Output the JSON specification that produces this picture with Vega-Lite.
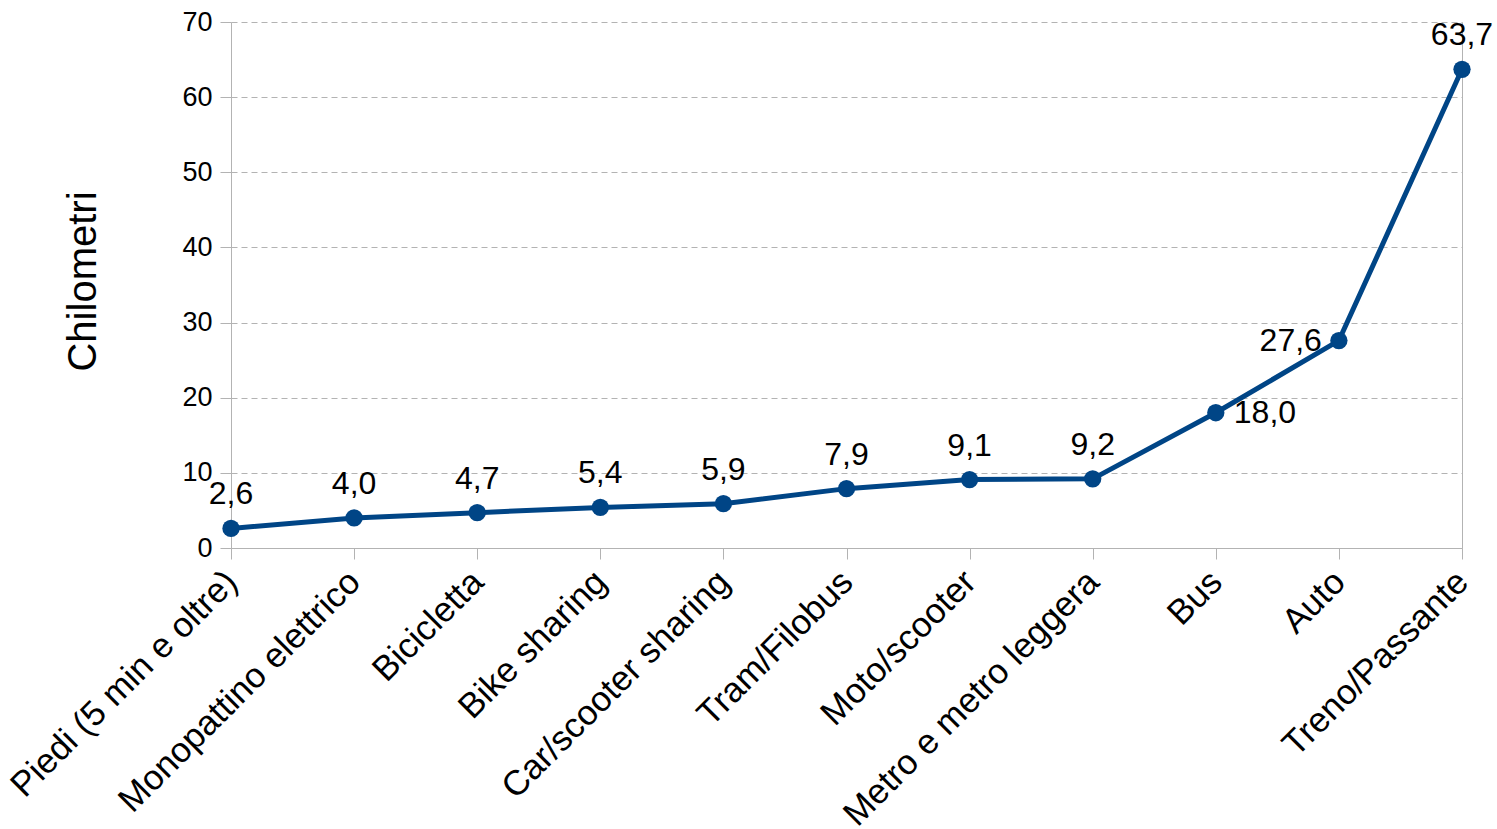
{
  "$schema": "https://vega.github.io/schema/vega-lite/v6.json",
  "width": 1231,
  "height": 526,
  "autosize": "none",
  "padding": {"left": 231, "top": 22, "right": 35, "bottom": 281},
  "background": "white",
  "config": {
    "view": {"stroke": null},
    "font": "Liberation Sans",
    "locale": {"number": {"decimal": ",", "thousands": ".", "grouping": [3], "currency": ["", " €"]}}
  },
  "data": {
    "values": [
      {"mezzo": "Piedi (5 min e oltre)", "km": 2.6},
      {"mezzo": "Monopattino elettrico", "km": 4.0},
      {"mezzo": "Bicicletta", "km": 4.7},
      {"mezzo": "Bike sharing", "km": 5.4},
      {"mezzo": "Car/scooter sharing", "km": 5.9},
      {"mezzo": "Tram/Filobus", "km": 7.9},
      {"mezzo": "Moto/scooter", "km": 9.1},
      {"mezzo": "Metro e metro leggera", "km": 9.2},
      {"mezzo": "Bus", "km": 18.0},
      {"mezzo": "Auto", "km": 27.6},
      {"mezzo": "Treno/Passante", "km": 63.7}
    ]
  },
  "encoding": {
    "x": {
      "field": "mezzo", "type": "nominal", "sort": null,
      "scale": {"type": "point", "padding": 0},
      "axis": {
        "title": null, "labelAngle": -45, "labelFontSize": 35, "labelColor": "#000000",
        "labelAlign": "right", "labelBaseline": "middle", "labelPadding": 17,
        "domainColor": "#b3b3b3", "tickColor": "#b3b3b3", "tickSize": 11, "grid": false,
        "labelLimit": 0
      }
    }
  },
  "layer": [
    {
      "mark": {"type": "line", "color": "#004586", "strokeWidth": 5},
      "encoding": {
        "y": {
          "field": "km", "type": "quantitative",
          "scale": {"domain": [0, 70], "nice": false},
          "axis": {
            "title": "Chilometri", "titleFontSize": 40, "titleFontWeight": "normal", "titleColor": "#000000",
            "titleX": -148, "titleY": 259, "titleBaseline": "middle", "titleAngle": -90,
            "values": [0, 10, 20, 30, 40, 50, 60, 70],
            "labelFontSize": 27, "labelColor": "#000000", "labelPadding": 8,
            "domainColor": "#b3b3b3", "tickColor": "#b3b3b3", "tickSize": 11,
            "grid": true, "gridColor": "#b3b3b3", "gridDash": [6, 4], "gridWidth": 1
          }
        }
      }
    },
    {
      "mark": {"type": "point", "opacity": 0},
      "encoding": {
        "y": {
          "field": "km", "type": "quantitative",
          "axis": {"orient": "right", "labels": false, "ticks": false, "grid": false, "title": null, "domainColor": "#b3b3b3", "values": [0, 70]}
        }
      }
    },
    {
      "mark": {"type": "point", "filled": true, "color": "#004586", "opacity": 1, "size": 300},
      "encoding": {"y": {"field": "km", "type": "quantitative", "axis": null}}
    },
    {
      "transform": [{"filter": "datum.mezzo !== 'Bus' && datum.mezzo !== 'Auto'"}],
      "mark": {"type": "text", "fontSize": 32, "dy": -34, "align": "center", "baseline": "middle", "color": "#000000"},
      "encoding": {
        "y": {"field": "km", "type": "quantitative", "axis": null},
        "text": {"field": "km", "type": "quantitative", "format": ".1f"}
      }
    },
    {
      "transform": [{"filter": "datum.mezzo === 'Bus'"}],
      "mark": {"type": "text", "fontSize": 32, "dx": 18, "align": "left", "baseline": "middle", "color": "#000000"},
      "encoding": {
        "y": {"field": "km", "type": "quantitative", "axis": null},
        "text": {"field": "km", "type": "quantitative", "format": ".1f"}
      }
    },
    {
      "transform": [{"filter": "datum.mezzo === 'Auto'"}],
      "mark": {"type": "text", "fontSize": 32, "dx": -17, "align": "right", "baseline": "middle", "color": "#000000"},
      "encoding": {
        "y": {"field": "km", "type": "quantitative", "axis": null},
        "text": {"field": "km", "type": "quantitative", "format": ".1f"}
      }
    }
  ],
  "resolve": {"axis": {"y": "independent"}}
}
